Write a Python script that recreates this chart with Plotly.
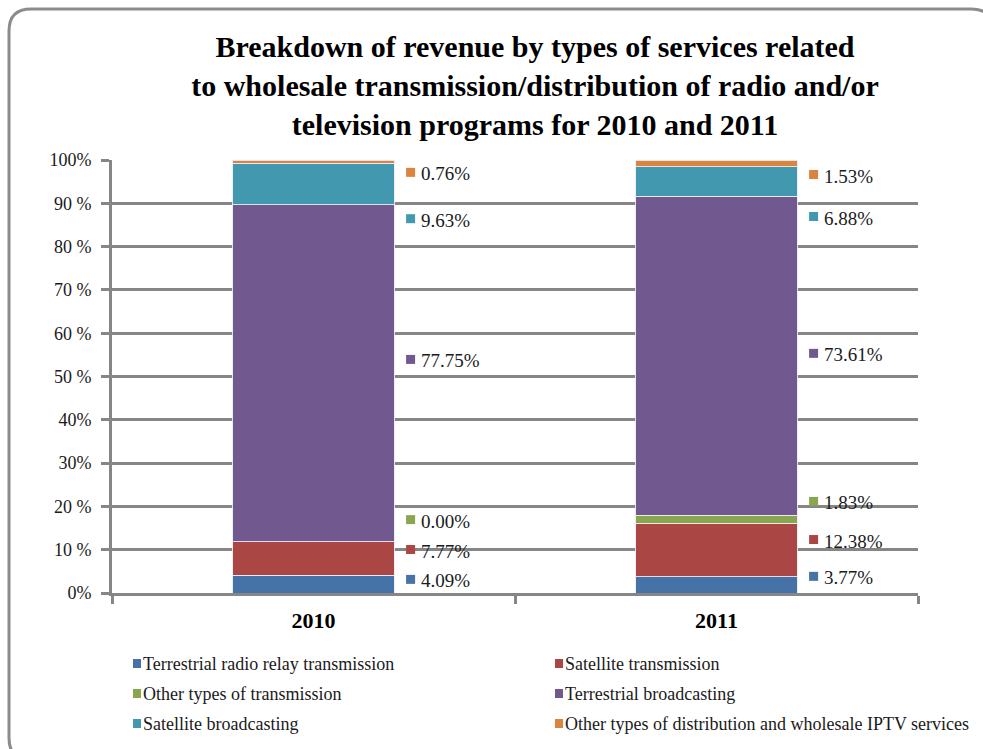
import plotly.graph_objects as go

# Revenue shares (%) by service type, stacked bottom to top
years = ["2010", "2011"]
series_names = [
    "Terrestrial radio relay transmission",
    "Satellite transmission",
    "Other types of transmission",
    "Terrestrial broadcasting",
    "Satellite broadcasting",
    "Other types of distribution and wholesale IPTV services",
]
radio_relay = [4.09, 3.77]
satellite_tx = [7.77, 12.38]
other_tx = [0.00, 1.83]
terrestrial_bc = [77.75, 73.61]
satellite_bc = [9.63, 6.88]
other_distribution = [0.76, 1.53]

series_values = [radio_relay, satellite_tx, other_tx, terrestrial_bc, satellite_bc, other_distribution]
colors = ["#4572A7", "#AA4643", "#89A54E", "#71588F", "#4198AF", "#DB843D"]

y_ticks = [0, 10, 20, 30, 40, 50, 60, 70, 80, 90, 100]
y_tick_text = ["0%", "10 %", "20 %", "30%", "40%", "50 %", "60 %", "70 %", "80 %", "90 %", "100%"]

# Vertical placement (axis %) of each value label, per year, per series
label_y = [
    [2.8, 9.7, 16.6, 53.6, 86.1, 96.8],
    [3.5, 12.0, 20.8, 55.0, 86.6, 96.3],
]

W, H = 983, 749
L, R, T, B = 112, 918, 160, 593
BAR_W = 0.4
SERIF = "Liberation Serif, Times New Roman, serif"


def px(xp):
    return (xp - L) / (R - L)


def py(yp):
    return (B - yp) / (B - T)


fig = go.Figure()
for name, vals, col in zip(series_names, series_values, colors):
    fig.add_trace(go.Bar(
        x=years, y=vals, name=name, width=BAR_W,
        marker=dict(color=col, line=dict(color="rgba(235,235,245,0.9)", width=1)),
        showlegend=False,
    ))

annotations = []
shapes = []

# Value labels with colour keys to the right of each bar
for i, year in enumerate(years):
    for s, (vals, col) in enumerate(zip(series_values, colors)):
        yv = label_y[i][s]
        shapes.append(dict(
            type="rect", xref="x", yref="y",
            xsizemode="pixel", ysizemode="pixel",
            xanchor=i + BAR_W / 2, yanchor=yv,
            x0=12, x1=21, y0=-3, y1=6,
            fillcolor=col, line=dict(width=0),
        ))
        annotations.append(dict(
            x=i + BAR_W / 2, y=yv, xref="x", yref="y",
            xanchor="left", yanchor="middle", xshift=25,
            text=f"{vals[i]:.2f}%", showarrow=False,
            font=dict(family=SERIF, size=19, color="#1a1a1a"),
        ))

# Two-column legend below the plot
legend_rows = [664, 694, 724]
legend_cols = [133, 555]
for k, (name, col) in enumerate(zip(series_names, colors)):
    r, c = divmod(k, 2)
    x0 = legend_cols[c]
    yc = legend_rows[r]
    shapes.append(dict(
        type="rect", xref="paper", yref="paper",
        x0=px(x0), x1=px(x0 + 8), y0=py(yc + 4), y1=py(yc - 5),
        fillcolor=col, line=dict(width=0),
    ))
    annotations.append(dict(
        x=px(x0 + 8), y=py(yc), xref="paper", yref="paper",
        xanchor="left", yanchor="middle", text=name, showarrow=False,
        font=dict(family=SERIF, size=18, color="#1a1a1a"),
    ))

# Rounded slide frame (right and bottom edges run past the page)
fl, ft, fr, fb, rad = 9, 9, 993, 760, 22
frame_path = (
    f"M {px(fl)},{py(fb - rad)} "
    f"L {px(fl)},{py(ft + rad)} "
    f"Q {px(fl)},{py(ft)} {px(fl + rad)},{py(ft)} "
    f"L {px(fr - rad)},{py(ft)} "
    f"Q {px(fr)},{py(ft)} {px(fr)},{py(ft + rad)} "
    f"L {px(fr)},{py(fb - rad)} "
    f"Q {px(fr)},{py(fb)} {px(fr - rad)},{py(fb)} "
    f"L {px(fl + rad)},{py(fb)} "
    f"Q {px(fl)},{py(fb)} {px(fl)},{py(fb - rad)} Z"
)
shapes.append(dict(
    type="path", xref="paper", yref="paper", path=frame_path,
    line=dict(color="#8c8c8c", width=3), layer="below",
))

fig.update_layout(
    width=W, height=H,
    margin=dict(l=L, r=W - R, t=T, b=H - B),
    paper_bgcolor="white", plot_bgcolor="white",
    barmode="stack",
    title=dict(
        text="Breakdown of revenue by types of services related<br>"
             "to wholesale transmission/distribution of radio and/or<br>"
             "television programs for 2010 and 2011",
        x=535 / W, xanchor="center", xref="container",
        y=1 - 57 / H, yanchor="middle", yref="container",
        font=dict(family=SERIF, size=30, color="black", weight="bold"),
    ),
    xaxis=dict(
        type="category", range=[-0.5, 1.5],
        showline=True, linecolor="#868686", linewidth=3,
        ticks="outside", tickson="boundaries", ticklen=8,
        tickcolor="#868686", tickwidth=3,
        tickfont=dict(family=SERIF, size=22, color="black", weight="bold"),
        ticklabelstandoff=6,
        showgrid=False, zeroline=False,
    ),
    yaxis=dict(
        range=[0, 100], tickvals=y_ticks, ticktext=y_tick_text,
        showline=True, linecolor="#868686", linewidth=3,
        ticks="outside", ticklen=8, tickcolor="#868686", tickwidth=3,
        tickfont=dict(family=SERIF, size=18, color="#1a1a1a"),
        ticklabelstandoff=6,
        showgrid=True, gridcolor="#868686", gridwidth=2.5,
        zeroline=False,
    ),
    annotations=annotations,
    shapes=shapes,
)

fig.write_html("out.html")
